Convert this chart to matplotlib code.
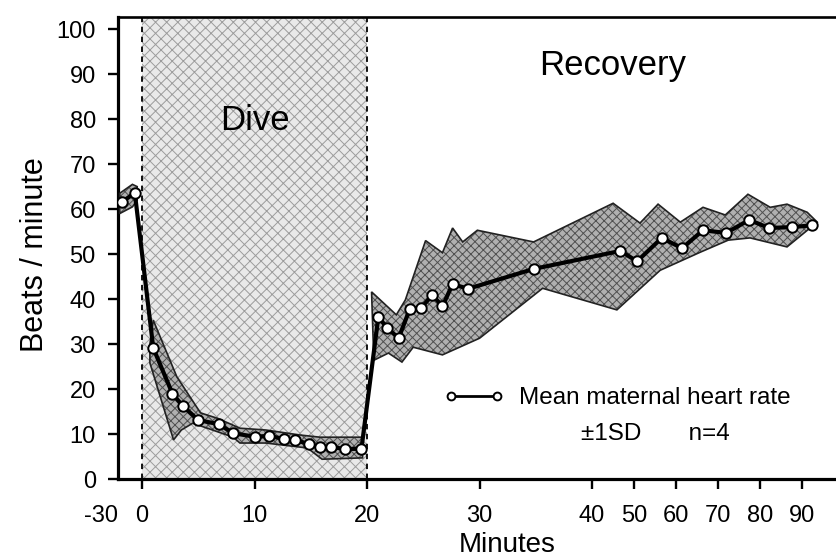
import matplotlib
matplotlib.use('Agg')
import matplotlib.pyplot as plt
import numpy as np

plt.rcParams['font.family'] = ['Liberation Sans', 'DejaVu Sans']
plt.rcParams['hatch.linewidth'] = 0.7

# mean heart rate (beats/min) vs minutes
pre_min = [-25, -9]
pre_mean = [61.6, 63.6]
dive_min = [1.0, 2.7, 3.6, 5.0, 6.8, 8.1, 10.0, 11.3, 12.6, 13.6, 14.8, 15.8, 16.8, 18.0, 19.5]
dive_mean = [29.1, 19.0, 16.3, 13.1, 12.2, 10.2, 9.4, 9.6, 8.9, 8.7, 7.8, 7.1, 7.1, 6.7, 6.7]
rec_min = [21.0, 21.8, 22.8, 23.8, 24.8, 25.8, 26.7, 27.6, 29.0, 34.8,
           46.7, 50.7, 56.6, 61.4, 66.4, 71.9, 77.4, 82.1, 87.6, 92.4]
rec_mean = [36.0, 33.6, 31.3, 37.8, 38.0, 40.9, 38.4, 43.3, 42.3, 46.7,
            50.7, 48.4, 53.6, 51.3, 55.3, 54.7, 57.6, 55.8, 56.0, 56.4]

# +/- 1 SD envelope
pre_up_min = [-28, -12, -6]
pre_up = [63.5, 65.5, 65.0]
pre_lo_min = [-28, -12, -6]
pre_lo = [59.0, 60.5, 62.0]

dive_up_min = [0.7, 1.0, 3.1, 5.2, 6.7, 8.7, 11.0, 14.0, 15.8, 19.6]
dive_up = [30.0, 35.3, 22.7, 14.7, 13.5, 11.3, 10.9, 9.8, 9.3, 9.3]
dive_lo_min = [0.7, 2.8, 3.5, 4.5, 5.8, 8.1, 8.7, 11.0, 14.7, 16.0, 19.6]
dive_lo = [25.8, 8.7, 10.9, 12.4, 11.3, 9.3, 8.0, 8.0, 6.9, 4.4, 4.7]

rec_up_min = [20.4, 22.6, 23.4, 25.2, 26.7, 27.6, 28.5, 29.8, 34.8, 45.0,
              51.4, 55.7, 61.0, 66.4, 71.7, 77.1, 82.4, 86.4, 91.2, 93.6]
rec_up = [41.6, 36.5, 39.8, 53.0, 50.3, 55.8, 52.7, 55.3, 52.7, 61.3,
          56.9, 61.1, 57.1, 60.4, 58.7, 63.3, 60.4, 61.1, 59.3, 57.1]
rec_lo_min = [20.6, 21.9, 23.1, 24.1, 26.7, 30.0, 35.6, 45.9, 56.2, 65.7,
              72.4, 77.6, 86.4, 93.6]
rec_lo = [26.4, 28.0, 26.0, 29.3, 27.6, 31.3, 42.4, 37.6, 46.4, 50.4,
          53.1, 53.6, 51.6, 57.1]

xticks = [-30, 0, 10, 20, 30, 40, 50, 60, 70, 80, 90]
yticks = list(range(0, 101, 10))

# broken time axis: squeezed before 0 and after 40 minutes
C_PRE = 0.0711
C_POST = 0.3733


def fwd(x):
    x = np.asarray(x, dtype=float)
    return np.where(x < 0, x * C_PRE, np.where(x <= 40, x, 40 + (x - 40) * C_POST))


def inv(u):
    u = np.asarray(u, dtype=float)
    return np.where(u < 0, u / C_PRE, np.where(u <= 40, u, 40 + (u - 40) / C_POST))


fig = plt.figure(figsize=(8.37, 5.6), dpi=100)
ax = fig.add_axes([0.141, 0.1446, 0.859, 0.825])
ax.set_xscale('function', functions=(fwd, inv))
ax.set_xlim(-30, 98.3)
ax.set_ylim(0, 102.7)

# dive period
ax.axvspan(0, 20, facecolor='#e9e9e9', edgecolor='#9c9c9c', hatch='xxx', lw=0, zorder=0)
for xv in (0, 20):
    ax.axvline(xv, color='black', ls=(0, (3, 2.5)), lw=1.3, zorder=1)


def band(x_up, y_up, x_lo, y_lo):
    xs = np.concatenate([x_up, x_lo[::-1]])
    ys = np.concatenate([y_up, y_lo[::-1]])
    ax.fill(xs, ys, facecolor='#b0b0b0', edgecolor='#505050', hatch='xxxx', lw=0, zorder=2)
    ax.fill(xs, ys, fill=False, edgecolor='#222222', lw=1.2, zorder=3)


band(pre_up_min, pre_up, pre_lo_min, pre_lo)
band(dive_up_min, dive_up, dive_lo_min, dive_lo)
band(rec_up_min, rec_up, rec_lo_min, rec_lo)

all_min = pre_min + dive_min + rec_min
all_mean = pre_mean + dive_mean + rec_mean
ax.plot(all_min, all_mean, color='black', lw=3.0, marker='o', ms=7.5,
        mfc='white', mec='black', mew=1.4, zorder=4,
        label='Mean maternal heart rate')

leg = ax.legend(loc='center left', bbox_to_anchor=(0.453, 0.175), frameon=False,
                fontsize=17.5, handlelength=2.5, handletextpad=0.6, borderpad=0,
                borderaxespad=0, numpoints=2, markerscale=0.75)
for h in leg.legend_handles:
    h.set_linewidth(2.0)
ax.text(0.748, 0.098, '±1SD       n=4', transform=ax.transAxes, fontsize=17.5,
        ha='center', va='center')

ax.text(10, 79.8, 'Dive', fontsize=25, ha='center', va='center')
ax.text(44.8, 92, 'Recovery', fontsize=25, ha='center', va='center')

ax.set_xticks(xticks)
ax.set_xticklabels([str(t) for t in xticks])
ax.set_yticks(yticks)
ax.tick_params(axis='both', labelsize=17, length=7, width=1.7, direction='out', pad=9)
ax.tick_params(axis='x', pad=12)
ax.xaxis.get_major_ticks()[0].tick1line.set_visible(False)
ax.get_xticklabels()[0].set_horizontalalignment('right')

ax.set_xlabel('Minutes', fontsize=20, va='center')
ax.xaxis.set_label_coords(0.541, -0.143)
ax.set_ylabel('Beats / minute', fontsize=22, va='center')
ax.yaxis.set_label_coords(-0.115, 0.485)

ax.spines['right'].set_visible(False)
ax.spines['left'].set_linewidth(2.3)
ax.spines['bottom'].set_linewidth(2.3)
ax.spines['top'].set_linewidth(1.9)

fig.savefig('out.png', dpi=100)
